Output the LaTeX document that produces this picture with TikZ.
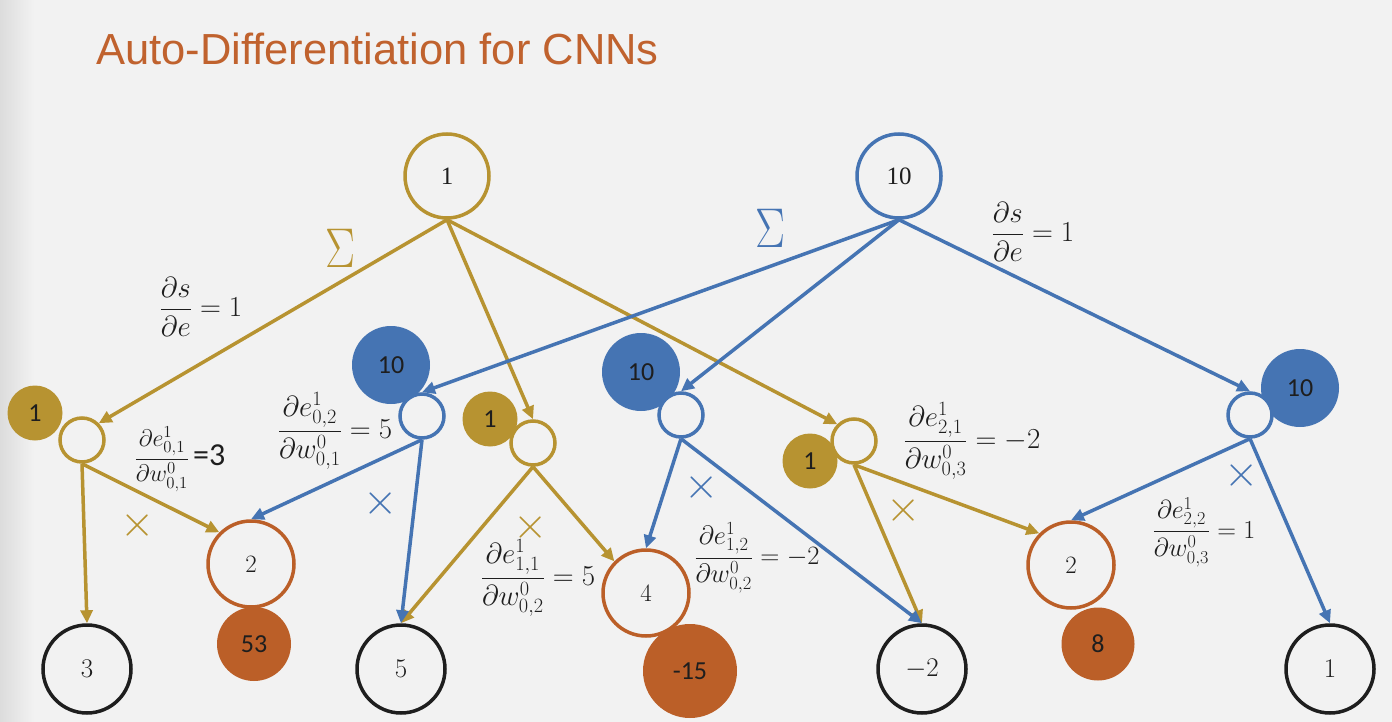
\RequirePackage{fix-cm}
\documentclass[tikz,border=0pt]{standalone}
\usepackage{fontspec}
\usepackage{amsmath}
\usetikzlibrary{arrows.meta}
\newfontfamily\titlefont{Liberation Sans}
\newfontfamily\calfont{Carlito}
\newfontfamily\timesfont{Liberation Serif}
\definecolor{bg}{HTML}{F2F2F2}
\definecolor{shadow}{HTML}{DCDCDC}
\definecolor{gold}{HTML}{B79331}
\definecolor{blu}{HTML}{4574B3}
\definecolor{org}{HTML}{BB5F28}
\definecolor{ink}{HTML}{1E1E1E}
\definecolor{ttl}{HTML}{C0622E}
\tikzset{
  hollow/.style={circle, draw=#1, fill=bg, line width=3.5pt, inner sep=0pt, text=ink},
  bigc/.style={minimum size=86pt, font=\fontsize{25}{25}\selectfont},
  smallc/.style={minimum size=44pt},
  dot/.style={circle, fill=#1, inner sep=0pt, text=ink, font=\calfont\fontsize{26}{26}\selectfont},
  conn/.style={draw=#1, line width=3.5pt, -{Triangle[length=13pt,width=12pt]}},
  mul/.style={text=#1, inner sep=0pt, font=\fontsize{44}{44}\selectfont},
  lab/.style={text=ink, inner sep=0pt},
}
\begin{document}
\begin{tikzpicture}[x=1pt,y=-1pt]
% background
\fill[bg] (0,0) rectangle (1392,722);
\shade[left color=shadow, right color=bg] (0,0) rectangle (34,722);
\useasboundingbox (0,0) rectangle (1392,722);

% title
\node[anchor=base west, inner sep=0pt, text=ttl, font=\titlefont\fontsize{43.5}{43.5}\selectfont] (title) at (96,65) {Auto-Differentiation for CNNs};

% filled value circles
\node[dot=gold, minimum size=55pt] (fg1) at (35,413) {1};
\node[dot=blu, minimum size=78pt] (fb1) at (391,365) {10};
\node[dot=gold, minimum size=55pt] (fg2) at (490,419) {1};
\node[dot=blu, minimum size=78pt] (fb2) at (641,372) {10};
\node[dot=gold, minimum size=55pt] (fg3) at (810,461) {1};
\node[dot=blu, minimum size=78pt] (fb3) at (1300,388) {10};
\node[dot=org, minimum size=74pt] (v53) at (254,644) {53};
\node[dot=org, minimum size=94pt] (v15) at (690,671) {-15};
\node[dot=org, minimum size=73pt] (v8) at (1098,644) {8};

% top circles
\node[hollow=gold, bigc, minimum size=84pt, font=\timesfont\fontsize{25}{25}\selectfont] (top1) at (447,176) {1};
\node[hollow=blu, bigc, minimum size=84pt, font=\timesfont\fontsize{25}{25}\selectfont] (top10) at (899,176) {10};

% small hollow circles
\node[hollow=gold, smallc] (g1) at (82,440) {};
\node[hollow=blu, smallc] (b1) at (422,416) {};
\node[hollow=gold, smallc] (g2) at (533,443) {};
\node[hollow=blu, smallc] (b2) at (681,415) {};
\node[hollow=gold, smallc] (g3) at (854,441) {};
\node[hollow=blu, smallc] (b3) at (1250,415) {};

% orange circles
\node[hollow=org, bigc] (o1) at (251,564) {2};
\node[hollow=org, bigc] (o2) at (646,593) {4};
\node[hollow=org, bigc] (o3) at (1071,565) {2};

% bottom circles
\node[hollow=ink, bigc, minimum size=88pt, font=\fontsize{27}{27}\selectfont] (n3) at (87,669) {3};
\node[hollow=ink, bigc, minimum size=88pt, font=\fontsize{27}{27}\selectfont] (n5) at (401,669) {5};
\node[hollow=ink, bigc, minimum size=88pt, font=\fontsize{27}{27}\selectfont] (nm2) at (922,669) {$-2$};
\node[hollow=ink, bigc, minimum size=88pt, font=\fontsize{27}{27}\selectfont] (n1) at (1330,669) {1};

% gold connectors
\draw[conn=gold] (top1.south) -- (g1.north east);
\draw[conn=gold] (top1.south) -- (g2.north);
\draw[conn=gold] (top1.south) -- (g3.north west);
\draw[conn=gold] (g1.south) -- (n3.north);
\draw[conn=gold] (g1.south) -- (o1.north west);
\draw[conn=gold] (g2.south) -- (n5.north);
\draw[conn=gold] (g2.south) -- (o2.north west);
\draw[conn=gold] (g3.south) -- (nm2.north);
\draw[conn=gold] (g3.south) -- (o3.north west);

% blue connectors
\draw[conn=blu] (top10.south) -- (b1.north);
\draw[conn=blu] (top10.south) -- (b2.north);
\draw[conn=blu] (top10.south) -- (b3.north);
\draw[conn=blu] (b1.south) -- (o1.north);
\draw[conn=blu] (b1.south) -- (n5.north);
\draw[conn=blu] (b2.south) -- (o2.north);
\draw[conn=blu] (b2.south) -- (nm2.north);
\draw[conn=blu] (b3.south) -- (o3.north);
\draw[conn=blu] (b3.south) -- (n1.north);

% sums
\node[text=gold, inner sep=0pt, xscale=0.8, font=\fontsize{56}{56}\selectfont] (sg) at (340,248) {$\Sigma$};
\node[text=blu, inner sep=0pt, xscale=0.8, font=\fontsize{56}{56}\selectfont] (sb) at (770,228) {$\Sigma$};

% multiplication marks
\node[mul=gold] (xg1) at (138,525) {$\times$};
\node[mul=blu] (xb1) at (381,503) {$\times$};
\node[mul=gold] (xg2) at (531,527) {$\times$};
\node[mul=blu] (xb2) at (702,487) {$\times$};
\node[mul=gold] (xg3) at (904,510) {$\times$};
\node[mul=blu] (xb3) at (1242,475) {$\times$};

% derivative labels
\node[lab, font=\fontsize{29}{29}\selectfont] (dsl) at (201,307) {$\dfrac{\partial s}{\partial e}=1$};
\node[lab, font=\fontsize{29}{29}\selectfont] (dsr) at (1033,232) {$\dfrac{\partial s}{\partial e}=1$};
\node[lab, font=\fontsize{24}{24}\selectfont] (d01) at (180,459) {$\dfrac{\partial e^1_{0,1}}{\partial w^0_{0,1}}$\,{\calfont\fontsize{32}{32}\selectfont =3}};
\node[lab, font=\fontsize{29}{29}\selectfont] (d02) at (335,431) {$\dfrac{\partial e^1_{0,2}}{\partial w^0_{0,1}}=5$};
\node[lab, font=\fontsize{29}{29}\selectfont] (d11) at (538,578) {$\dfrac{\partial e^1_{1,1}}{\partial w^0_{0,2}}=5$};
\node[lab, font=\fontsize{26.5}{26.5}\selectfont] (d12) at (757,558) {$\dfrac{\partial e^1_{1,2}}{\partial w^0_{0,2}}=-2$};
\node[lab, font=\fontsize{29}{29}\selectfont] (d21) at (972,441) {$\dfrac{\partial e^1_{2,1}}{\partial w^0_{0,3}}=-2$};
\node[lab, font=\fontsize{26}{26}\selectfont] (d22) at (1204,532) {$\dfrac{\partial e^1_{2,2}}{\partial w^0_{0,3}}=1$};
\end{tikzpicture}
\end{document}
